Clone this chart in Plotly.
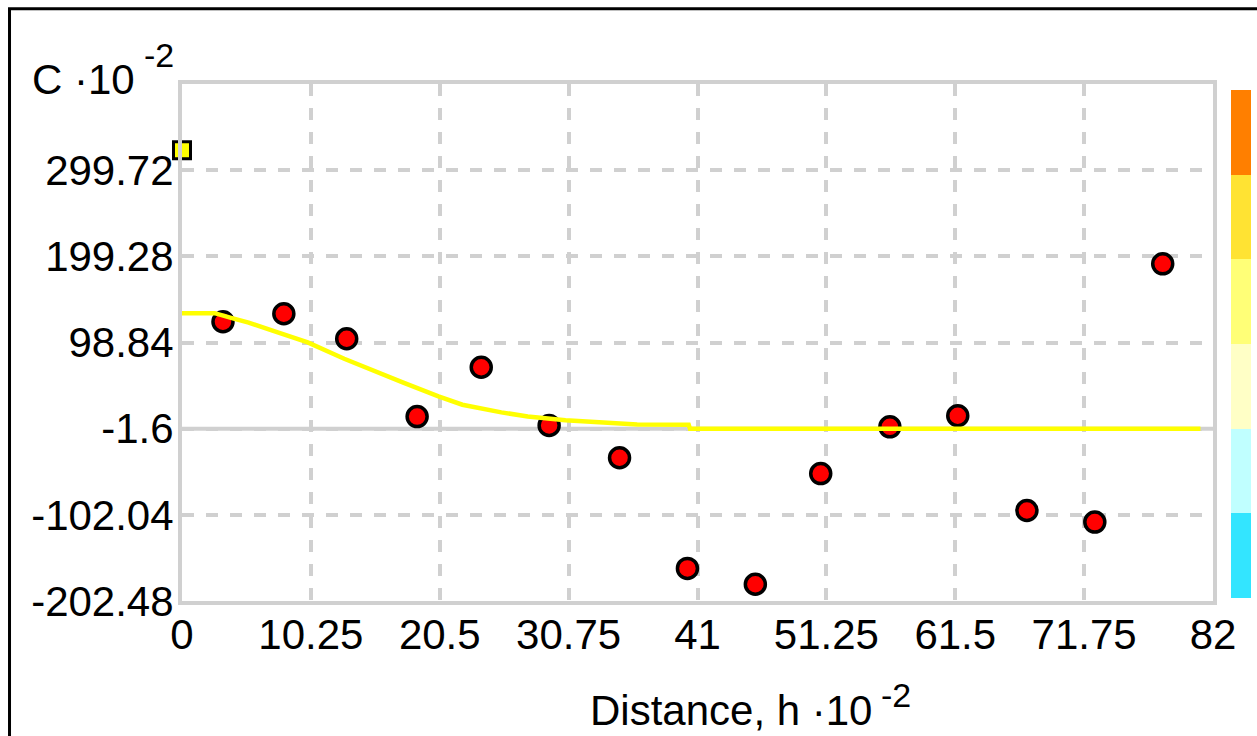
import plotly.graph_objects as go

# Experimental covariance C(h) at each lag, values scaled by 10^-2
lag_h = [3.26, 8.1, 13.1, 18.7, 23.8, 29.2, 34.8, 40.2, 45.6, 50.8, 56.3, 61.7, 67.2, 72.6, 78.0]
cov_c = [123.0, 132.3, 103.2, 12.5, 70.0, 2.2, -35.5, -164.5, -183.0, -54.0, 0.5, 13.5, -97.0, -110.5, 190.5]

# Covariance at zero lag (sample variance)
var_h = [0.0]
var_c = [323.0]

# Fitted covariance model
model_h = [0.0, 2.6, 3.9, 5.3, 7.2, 10.0, 12.9, 15.3, 17.6, 20.4, 22.3, 25.4, 27.5, 30.5, 36.2, 40.3, 40.4, 81.0]
model_c = [133.0, 133.0, 127.6, 122.1, 112.8, 98.9, 79.9, 65.1, 52.0, 36.0, 26.3, 17.4, 12.7, 8.1, 3.4, 3.0, -1.6, -1.6]

# Axis ticks
x_ticks = [0, 10.25, 20.5, 30.75, 41, 51.25, 61.5, 71.75, 82]
x_tick_text = ["0", "10.25", "20.5", "30.75", "41", "51.25", "61.5", "71.75", "82"]
y_ticks = [-202.48, -102.04, -1.6, 98.84, 199.28, 299.72]
y_tick_text = ["-202.48", "-102.04", "-1.6", "98.84", "199.28", "299.72"]
y_min, y_max = -202.48, 400.16

# Colour scale bands (bottom to top)
band_colors = ["#33E5FF", "#C0FFFF", "#FFFFC6", "#FFFF77", "#FFE333", "#FF7F00"]

FONT = "Liberation Sans, Arial, sans-serif"

n = len(band_colors)
colorscale = []
for i, c in enumerate(band_colors):
    colorscale.append([i / n, c])
    colorscale.append([(i + 1) / n, c])

fig = go.Figure()

fig.add_trace(go.Scatter(
    x=lag_h, y=cov_c, mode="markers",
    marker=dict(symbol="circle", size=20, color="#FF0000",
                line=dict(color="#000000", width=3.5)),
    hoverinfo="x+y",
))

fig.add_trace(go.Scatter(
    x=model_h, y=model_c, mode="lines",
    line=dict(color="#FFFF00", width=4.5),
    hoverinfo="x+y",
))

fig.add_trace(go.Scatter(
    x=var_h, y=var_c, mode="markers", cliponaxis=False,
    marker=dict(symbol="square", size=17, color="#FFFF00",
                line=dict(color="#000000", width=3)),
    hoverinfo="x+y",
))

# Colour bar carrying the value bands
fig.add_trace(go.Scatter(
    x=[None], y=[None], mode="markers",
    marker=dict(color=[y_min], cmin=y_min, cmax=y_max, colorscale=colorscale,
                showscale=True,
                colorbar=dict(thickness=20, thicknessmode="pixels",
                              len=508, lenmode="pixels",
                              x=1.0175, xanchor="left", xpad=0,
                              y=0.497, yanchor="middle", ypad=0,
                              outlinewidth=0, showticklabels=False, ticks="")),
    hoverinfo="skip",
))

grid_style = dict(showgrid=True, gridcolor="#D0D0D0", gridwidth=3.5, griddash="12px,12px",
                  showline=True, linecolor="#D0D0D0", linewidth=4, mirror=True,
                  zeroline=False, ticks="",
                  tickfont=dict(family=FONT, size=42, color="#000000"))

fig.update_xaxes(range=[0, 82], tickmode="array", tickvals=x_ticks, ticktext=x_tick_text,
                 ticklabelstandoff=-6, **grid_style)
fig.update_yaxes(range=[y_min, y_max], tickmode="array", tickvals=y_ticks, ticktext=y_tick_text,
                 ticklabelstandoff=-4, **grid_style)

# Solid reference line at the mean level
fig.add_shape(type="line", xref="paper", x0=0, x1=1, yref="y", y0=-1.6, y1=-1.6,
              line=dict(color="#D0D0D0", width=4), layer="below")

# Outer frame
fig.add_shape(type="rect", xref="paper", yref="paper",
              x0=-0.1673, x1=1.2, y0=-0.5, y1=1.1455,
              line=dict(color="#000000", width=3))

annot_font = dict(family=FONT, size=42, color="#000000")
sup_font = dict(family=FONT, size=34, color="#000000")
fig.add_annotation(text="C ·10", xref="paper", yref="paper", x=-0.1475, y=0.96,
                   xanchor="left", yanchor="bottom", showarrow=False, font=annot_font)
fig.add_annotation(text="-2", xref="paper", yref="paper", x=-0.0385, y=1.015,
                   xanchor="left", yanchor="bottom", showarrow=False, font=sup_font)
fig.add_annotation(text="Distance, h ·10", xref="paper", yref="paper", x=0.3935, y=-0.262,
                   xanchor="left", yanchor="bottom", showarrow=False, font=annot_font)
fig.add_annotation(text="-2", xref="paper", yref="paper", x=0.6765, y=-0.222,
                   xanchor="left", yanchor="bottom", showarrow=False, font=sup_font)

fig.update_layout(
    width=1257, height=736,
    margin=dict(l=182, r=44, t=84, b=135, autoexpand=False),
    paper_bgcolor="#FFFFFF", plot_bgcolor="#FFFFFF",
    showlegend=False,
    font=dict(family=FONT, size=42, color="#000000"),
)

fig.write_html("out.html")
